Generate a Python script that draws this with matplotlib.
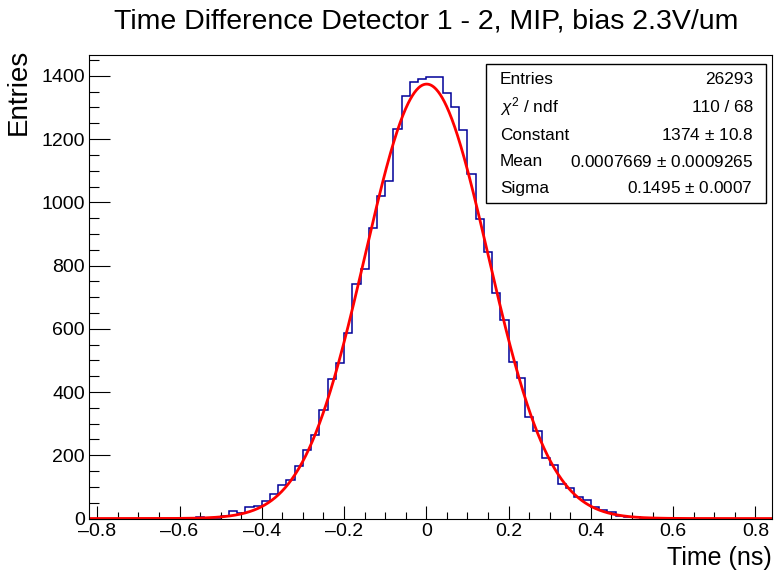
import numpy as np
import matplotlib
matplotlib.use("Agg")
import matplotlib.pyplot as plt
from matplotlib.ticker import MultipleLocator, FuncFormatter

# histogram: 0.02 ns bins, only the filled region listed (starts at -0.60)
bin_width = 0.02
x_lo, x_hi = -0.82, 0.84
first_edge = -0.60
counts = [0, 1, 5, 2, 3, 8, 25, 18, 37, 39,
          55, 79, 106, 121, 165, 218, 263, 342, 440, 492,
          587, 742, 789, 920, 1020, 1069, 1232, 1337, 1382, 1391,
          1396, 1396, 1346, 1300, 1230, 1091, 948, 843, 712, 628,
          494, 444, 321, 277, 192, 169, 109, 98, 67, 58,
          35, 27, 20, 8, 6, 4, 2, 1, 0, 0]

# gaussian fit parameters (from stats box)
fit_const = 1374.0
fit_mean = 0.0007669
fit_sigma = 0.1495

stats_rows = [
    ("Entries", "26293"),
    (r"$\chi^{2}$ / ndf", "110 / 68"),
    ("Constant", "1374 $\\pm$ 10.8"),
    ("Mean", "0.0007669 $\\pm$ 0.0009265"),
    ("Sigma", "0.1495 $\\pm$ 0.0007"),
]

plt.rcParams['font.family'] = ['Liberation Sans', 'DejaVu Sans']
plt.rcParams['mathtext.fontset'] = 'custom'
plt.rcParams['mathtext.rm'] = 'Liberation Sans'
plt.rcParams['mathtext.it'] = 'Liberation Sans:italic'

fig = plt.figure(figsize=(7.76, 5.76), dpi=100)
ax = fig.add_axes([0.1147, 0.0998, 0.880, 0.8047])

# pad with empty bins over the full axis range
n_left = int(round((first_edge - x_lo) / bin_width))
n_total = int(round((x_hi - x_lo) / bin_width))
full = [0] * n_left + counts
full = full + [0] * (n_total - len(full))
edges = x_lo + bin_width * np.arange(n_total + 1)
ax.stairs(full, edges, color='#000099', lw=1.1)

xf = np.linspace(x_lo, x_hi, 1000)
yf = fit_const * np.exp(-0.5 * ((xf - fit_mean) / fit_sigma) ** 2)
ax.plot(xf, yf, color='red', lw=2.0)

ax.set_xlim(x_lo, x_hi)
ax.set_ylim(0, 1466)

ax.xaxis.set_major_locator(MultipleLocator(0.2))
ax.xaxis.set_minor_locator(MultipleLocator(0.05))
ax.yaxis.set_major_locator(MultipleLocator(200))
ax.yaxis.set_minor_locator(MultipleLocator(50))
ax.xaxis.set_major_formatter(FuncFormatter(lambda v, p: "0" if abs(v) < 1e-9 else f"{v:.1f}".replace("-", "\u2013")))
ax.tick_params(axis='x', which='major', direction='in', length=9.4, width=0.8, labelsize=14, pad=3)
ax.tick_params(axis='x', which='minor', direction='in', length=4.7, width=0.8)
ax.tick_params(axis='y', which='major', direction='in', length=14.8, width=0.8, labelsize=14, pad=3)
ax.tick_params(axis='y', which='minor', direction='in', length=7.4, width=0.8)
for s in ax.spines.values():
    s.set_linewidth(0.8)

fig.text(0.549, 0.962, "Time Difference Detector 1 - 2, MIP, bias 2.3V/um",
         ha='center', va='center', fontsize=20.5)
fig.text(0.995, 0.010, "Time (ns)", ha='right', va='bottom', fontsize=18)
fig.text(0.008, 0.915, "Entries", ha='left', va='top', rotation=90, fontsize=20)

# stats box
bx0, by0, bx1, by1 = 486 / 776, 1 - 203 / 576, 766 / 776, 1 - 64 / 576
fig.patches.append(plt.Rectangle((bx0, by0), bx1 - bx0, by1 - by0, transform=fig.transFigure,
                                 facecolor='white', edgecolor='black', lw=1.0, zorder=5))
row_y = [79, 107, 135, 162, 188]
for (lab, val), ry in zip(stats_rows, row_y):
    fig.text(500 / 776, 1 - ry / 576, lab, ha='left', va='center', fontsize=12.4, zorder=6)
    fig.text(753 / 776, 1 - ry / 576, val, ha='right', va='center', fontsize=12.4, zorder=6)

fig.savefig("out.png", dpi=100)
